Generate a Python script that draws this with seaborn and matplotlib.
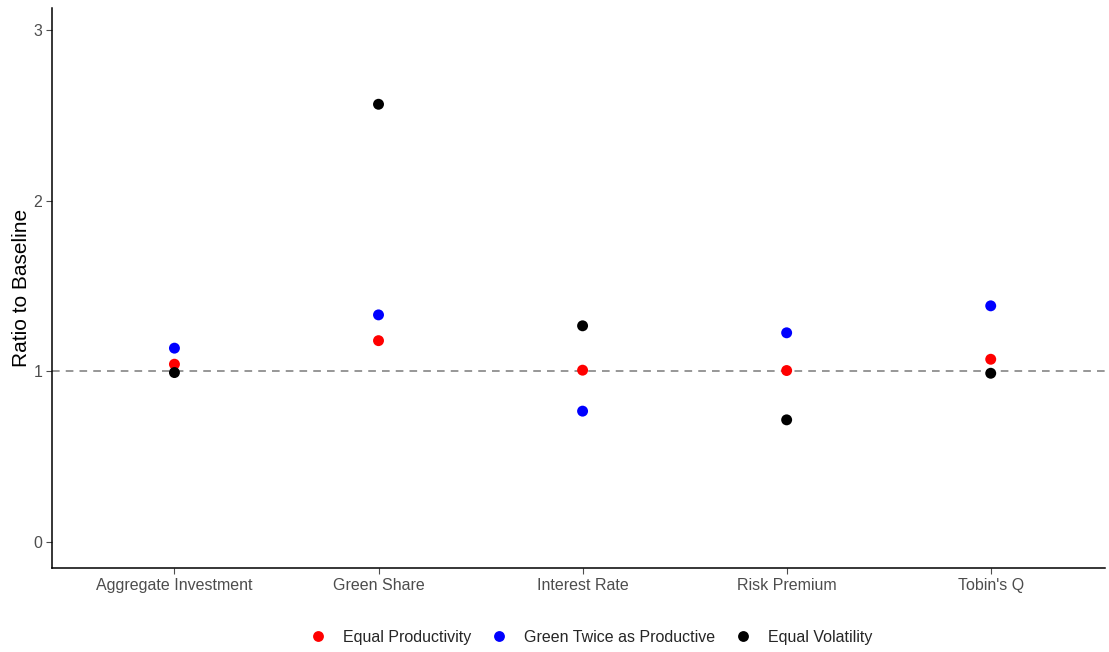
import matplotlib
matplotlib.use("Agg")
import matplotlib.pyplot as plt
import seaborn as sns
import pandas as pd

categories = ["Aggregate Investment", "Green Share", "Interest Rate", "Risk Premium", "Tobin's Q"]
scenarios = ["Equal Productivity", "Green Twice as Productive", "Equal Volatility"]
equal_productivity = [1.042, 1.180, 1.007, 1.005, 1.071]
green_twice = [1.136, 1.331, 0.767, 1.226, 1.384]
equal_volatility = [0.993, 2.565, 1.267, 0.716, 0.989]
colors = ["#FF0000", "#0000FF", "#000000"]

rows = []
for name, vals in zip(scenarios, [equal_productivity, green_twice, equal_volatility]):
    for cat, v in zip(categories, vals):
        rows.append({"Variable": cat, "Ratio": v, "Scenario": name})
df = pd.DataFrame(rows)
df["x"] = df["Variable"].map({c: i for i, c in enumerate(categories)})

sns.set_theme(style="white")
plt.rcParams["font.family"] = ["Liberation Sans", "DejaVu Sans"]

W, H = 1109, 652
fig = plt.figure(figsize=(W / 100, H / 100), dpi=100)
left, right, top, bottom = 52, 1105, 8, 568
ax = fig.add_axes([left / W, 1 - bottom / H, (right - left) / W, (bottom - top) / H])

ax.axhline(1, color="#7A7A7A", linestyle=(0, (5, 4)), linewidth=1.1, zorder=1)
sns.scatterplot(data=df, x="x", y="Ratio", hue="Scenario", hue_order=scenarios,
                palette=colors, s=62, edgecolor="none", ax=ax, zorder=3, legend=False)

ax.set_xlim(-0.6, 4.56)
ax.set_ylim(-0.152, 3.129)
ax.set_xticks(range(len(categories)))
ax.set_xticklabels(categories)
ax.set_yticks([0, 1, 2, 3])
ax.set_yticklabels(["0", "1", "2", "3"])
ax.set_xlabel("")
ax.set_ylabel("Ratio to Baseline", fontsize=15, color="black", labelpad=2)
ax.tick_params(axis="both", labelsize=11.5, colors="#4D4D4D", length=4, width=0.8,
               direction="out", left=True, bottom=True, pad=3)
for s in ["top", "right"]:
    ax.spines[s].set_visible(False)
for s in ["left", "bottom"]:
    ax.spines[s].set_color("black")
    ax.spines[s].set_linewidth(1.1)

handles = [plt.Line2D([], [], marker="o", linestyle="", markersize=7.8,
                      markerfacecolor=c, markeredgecolor="none") for c in colors]
fig.legend(handles, scenarios, loc="center", bbox_to_anchor=(0.533, 0.023), ncol=3,
           frameon=False, fontsize=11.5, handletextpad=1.1, columnspacing=1.2,
           handlelength=1.0)

fig.savefig("out.png", dpi=100, facecolor="white")
